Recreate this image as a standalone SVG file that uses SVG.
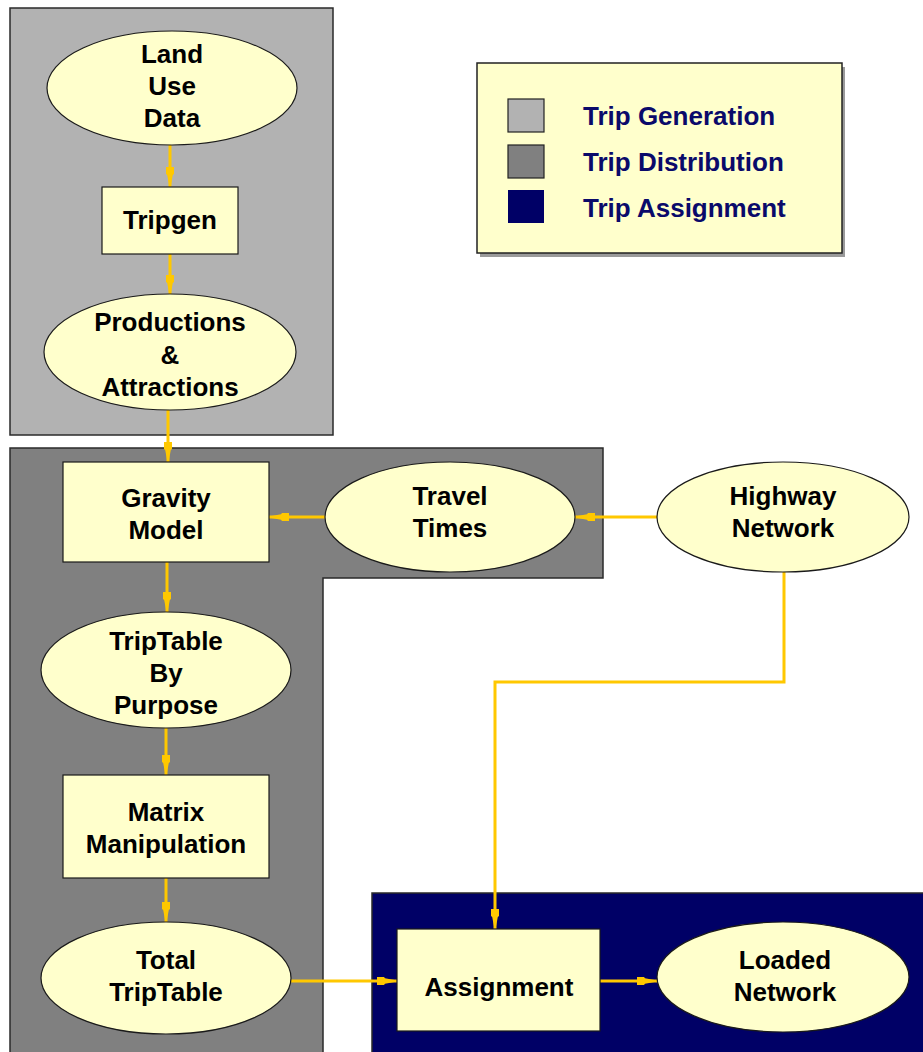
<svg xmlns="http://www.w3.org/2000/svg" width="923" height="1052" viewBox="0 0 923 1052">
<defs>
<style>
.pan{stroke:#2a2a2a;stroke-width:1.5}
.nd{fill:#FFFFCC;stroke:#1a1a1a;stroke-width:1.2}
.t{font-family:"Liberation Sans",Arial,sans-serif;font-weight:bold;font-size:26px;fill:#000;text-anchor:middle}
.lg{font-family:"Liberation Sans",Arial,sans-serif;font-weight:bold;font-size:26px;fill:#0A0A6A}
.c{fill:none;stroke:#FFC800;stroke-width:3;marker-end:url(#ah)}
</style>
<marker id="ah" viewBox="0 0 20 10" refX="20" refY="5" markerWidth="20" markerHeight="10" markerUnits="userSpaceOnUse" orient="auto">
<path d="M0,1 L7,1 L8,2.2 L20,4.5 L20,5.5 L8,7.8 L7,9 L0,9 Z" fill="#FFC800"/>
</marker>
</defs>
<rect width="923" height="1052" fill="#ffffff"/>
<g id="panels">
<rect id="trip-generation-panel" class="pan" x="10" y="8" width="323" height="427" fill="#B2B2B2"/>
<path id="trip-distribution-panel" class="pan" d="M10,1053 L10,448 L603,448 L603,578 L323,578 L323,1053" fill="#808080"/>
<rect id="trip-assignment-panel" class="pan" x="372" y="893" width="552" height="160" fill="#000066"/>
</g>
<g id="legend">
<rect x="480" y="67" width="365" height="190" fill="#9a9a9a"/>
<rect x="477" y="63" width="365" height="190" fill="#FFFFCC" stroke="#222" stroke-width="1.5"/>
<rect x="508" y="99" width="36" height="33" fill="#B2B2B2" stroke="#222" stroke-width="1.2"/>
<rect x="508" y="145" width="36" height="33" fill="#808080" stroke="#222" stroke-width="1.2"/>
<rect x="508" y="190" width="36" height="33" fill="#000066"/>
<text class="lg" x="583" y="125">Trip Generation</text>
<text class="lg" x="583" y="171">Trip Distribution</text>
<text class="lg" x="583" y="217">Trip Assignment</text>
</g>
<g id="connectors">
<line class="c" x1="170" y1="145" x2="170" y2="187"/>
<line class="c" x1="170" y1="254" x2="170" y2="295"/>
<line class="c" x1="168" y1="410" x2="168" y2="462"/>
<line class="c" x1="325" y1="517" x2="269" y2="517"/>
<line class="c" x1="657" y1="517" x2="575" y2="517"/>
<line class="c" x1="167" y1="562" x2="167" y2="612"/>
<line class="c" x1="166" y1="728" x2="166" y2="775"/>
<line class="c" x1="166" y1="878" x2="166" y2="922"/>
<line class="c" x1="291" y1="981" x2="397" y2="981"/>
<line class="c" x1="600" y1="981" x2="657" y2="981"/>
<polyline class="c" points="784,572 784,682 495,682 495,929"/>
</g>
<g id="land-use-data">
<ellipse class="nd" cx="172" cy="88" rx="125" ry="57"/>
<text class="t" x="172" y="63">Land</text>
<text class="t" x="172" y="95">Use</text>
<text class="t" x="172" y="127">Data</text>
</g>
<g id="tripgen">
<rect class="nd" x="102" y="187" width="136" height="67"/>
<text class="t" x="170" y="229">Tripgen</text>
</g>
<g id="productions-attractions">
<ellipse class="nd" cx="170" cy="352" rx="126" ry="58"/>
<text class="t" x="170" y="331">Productions</text>
<text class="t" x="170" y="364">&amp;</text>
<text class="t" x="170" y="396">Attractions</text>
</g>
<g id="gravity-model">
<rect class="nd" x="63" y="462" width="206" height="100"/>
<text class="t" x="166" y="507">Gravity</text>
<text class="t" x="166" y="539">Model</text>
</g>
<g id="travel-times">
<ellipse class="nd" cx="450" cy="517" rx="125" ry="55"/>
<text class="t" x="450" y="505">Travel</text>
<text class="t" x="450" y="537">Times</text>
</g>
<g id="highway-network">
<ellipse class="nd" cx="783" cy="517" rx="126" ry="55"/>
<text class="t" x="783" y="505">Highway</text>
<text class="t" x="783" y="537">Network</text>
</g>
<g id="triptable-by-purpose">
<ellipse class="nd" cx="166" cy="670" rx="125" ry="58"/>
<text class="t" x="166" y="650">TripTable</text>
<text class="t" x="166" y="682">By</text>
<text class="t" x="166" y="714">Purpose</text>
</g>
<g id="matrix-manipulation">
<rect class="nd" x="63" y="775" width="206" height="103"/>
<text class="t" x="166" y="821">Matrix</text>
<text class="t" x="166" y="853">Manipulation</text>
</g>
<g id="total-triptable">
<ellipse class="nd" cx="166" cy="978" rx="125" ry="56"/>
<text class="t" x="166" y="969">Total</text>
<text class="t" x="166" y="1001">TripTable</text>
</g>
<g id="assignment">
<rect class="nd" x="397" y="929" width="203" height="102"/>
<text class="t" x="499" y="996">Assignment</text>
</g>
<g id="loaded-network">
<ellipse class="nd" cx="783" cy="977" rx="126" ry="55"/>
<text class="t" x="785" y="969">Loaded</text>
<text class="t" x="785" y="1001">Network</text>
</g>
</svg>
